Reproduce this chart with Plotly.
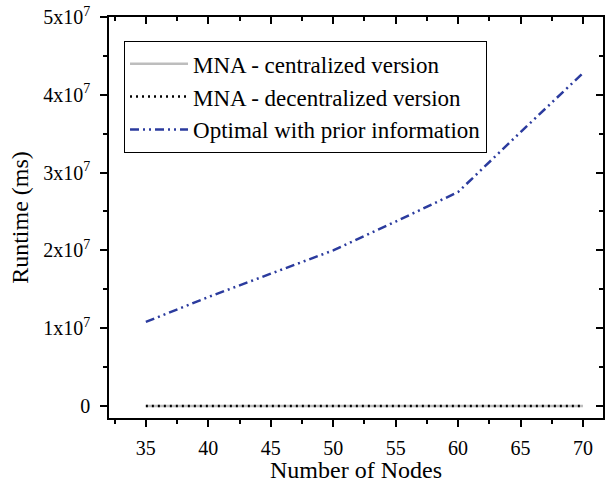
import plotly.graph_objects as go

nodes = [35, 40, 45, 50, 55, 60, 65, 70]
centralized = [0, 0, 0, 0, 0, 0, 0, 0]
decentralized = [0, 0, 0, 0, 0, 0, 0, 0]
optimal = [1.08e7, 1.40e7, 1.70e7, 2.00e7, 2.37e7, 2.75e7, 3.52e7, 4.28e7]

ytick_vals = [0, 1e7, 2e7, 3e7, 4e7, 5e7]
ytick_text = ["0", "1x10<sup>7</sup>", "2x10<sup>7</sup>", "3x10<sup>7</sup>",
              "4x10<sup>7</sup>", "5x10<sup>7</sup>"]
xtick_vals = [35, 40, 45, 50, 55, 60, 65, 70]

FONT = "Liberation Serif"

fig = go.Figure()
fig.add_trace(go.Scatter(x=nodes, y=centralized, mode="lines",
                         name="MNA - centralized version",
                         line=dict(color="#bdbdbd", width=2.5)))
fig.add_trace(go.Scatter(x=nodes, y=decentralized, mode="lines",
                         name="MNA - decentralized version",
                         line=dict(color="black", width=2.5, dash="2px,4px")))
fig.add_trace(go.Scatter(x=nodes, y=optimal, mode="lines",
                         name="Optimal with prior information",
                         line=dict(color="#2b3b9e", width=2.5,
                                   dash="9px,4px,2px,4px,2px,4px")))
# invisible trace to activate mirrored (inside-tick) axes
fig.add_trace(go.Scatter(x=nodes, y=centralized, xaxis="x2", yaxis="y2",
                         mode="lines", opacity=0, showlegend=False,
                         hoverinfo="skip"))

xr = [32.05, 71.6]
yr = [-1.55e6, 5e7]

fig.update_layout(
    width=610, height=483,
    margin=dict(l=109, r=7, t=17, b=65, autoexpand=False),
    paper_bgcolor="white", plot_bgcolor="white",
    font=dict(family=FONT, size=20, color="black"),
    showlegend=True,
    legend=dict(x=0.030, y=0.940, xanchor="left", yanchor="top",
                bordercolor="black", borderwidth=1.2, bgcolor="white",
                font=dict(family=FONT, size=23, color="black"), tracegroupgap=0,
                itemwidth=58),
    xaxis=dict(range=xr, tickvals=xtick_vals, ticks="outside", ticklen=7,
               tickwidth=1.5, tickcolor="black", showline=True,
               linecolor="black", linewidth=1.5, showgrid=False,
               zeroline=False, automargin=False, ticklabelstandoff=4,
               tickfont=dict(family=FONT, size=20, color="black"),
               minor=dict(dtick=2.5, tick0=0, ticks="outside", ticklen=4,
                          tickwidth=1.5, tickcolor="black"),
               title=dict(text="Number of Nodes", standoff=2,
                          font=dict(family=FONT, size=24, color="black"))),
    yaxis=dict(range=yr, tickvals=ytick_vals, ticktext=ytick_text,
               ticks="outside", ticklen=7, tickwidth=1.5, tickcolor="black",
               showline=True, linecolor="black", linewidth=1.5,
               showgrid=False, zeroline=False, automargin=False,
               ticklabelstandoff=6,
               tickfont=dict(family=FONT, size=20, color="black"),
               minor=dict(dtick=5e6, tick0=0, ticks="outside", ticklen=4,
                          tickwidth=1.5, tickcolor="black"),
               title=dict(text="Runtime (ms)", standoff=8,
                          font=dict(family=FONT, size=24, color="black"))),
    xaxis2=dict(range=xr, overlaying="x", side="top", anchor="y2",
                tickvals=xtick_vals, ticks="inside", ticklen=7, tickwidth=1.5,
                tickcolor="black", showline=True, linecolor="black",
                linewidth=1.5, showgrid=False, zeroline=False,
                showticklabels=False, automargin=False,
                minor=dict(dtick=2.5, tick0=0, ticks="inside", ticklen=4,
                           tickwidth=1.5, tickcolor="black")),
    yaxis2=dict(range=yr, overlaying="y", side="right", anchor="x2",
                tickvals=ytick_vals, ticks="inside", ticklen=7, tickwidth=1.5,
                tickcolor="black", showline=True, linecolor="black",
                linewidth=1.5, showgrid=False, zeroline=False,
                showticklabels=False, automargin=False,
                minor=dict(dtick=5e6, tick0=0, ticks="inside", ticklen=4,
                           tickwidth=1.5, tickcolor="black")),
)

fig.write_html("out.html", config={"displayModeBar": False},
               post_script="document.body.style.margin='0';document.body.style.padding='0';")
